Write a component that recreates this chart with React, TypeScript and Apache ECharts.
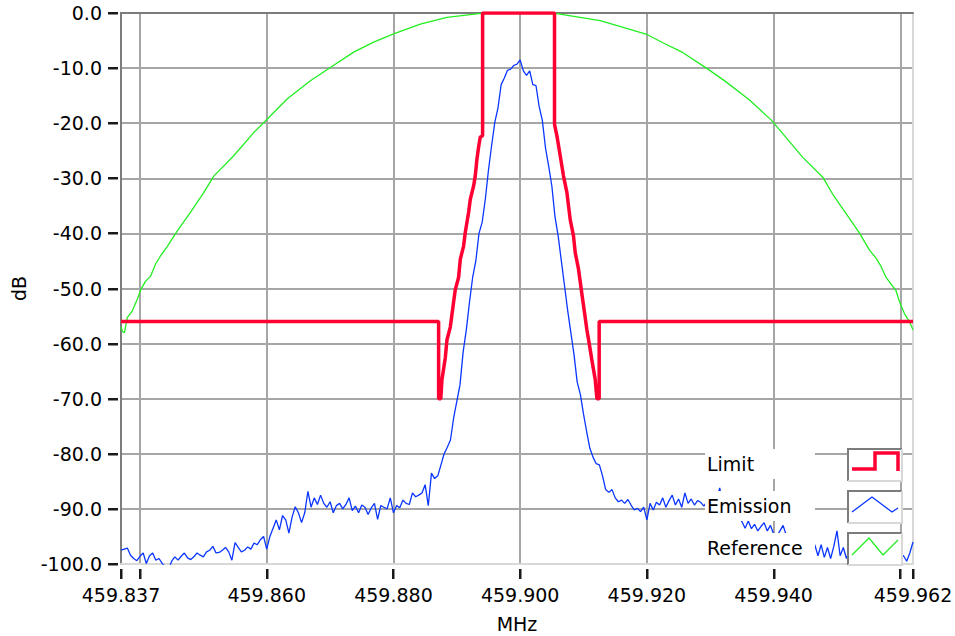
import React, { useEffect, useRef } from 'react';
import * as echarts from 'echarts';

// ---------- axis ----------
const X_MIN = 459.837;
const X_MAX = 459.962;
const xTickValues = [459.837, 459.84, 459.86, 459.88, 459.9, 459.92, 459.94, 459.96, 459.962];
const xLabelValues = [459.837, 459.86, 459.88, 459.9, 459.92, 459.94, 459.962];
const Y_MIN = -100;
const Y_MAX = 0;
const Y_STEP = 10;
const yTickValues = [-100, -90, -80, -70, -60, -50, -40, -30, -20, -10, 0];

// ---------- Reference (green) ----------
const refFreq = [
  459.837, 459.83724, 459.83755, 459.83798, 459.83877, 459.83956, 459.84008, 459.84086, 459.84165,
  459.84244, 459.84323, 459.84429, 459.84586, 459.84796, 459.85006, 459.85164, 459.85479, 459.85795,
  459.85979, 459.86321, 459.86689, 459.87004, 459.87372, 459.87687, 459.88003, 459.88424, 459.88845,
  459.89343, 459.89986, 459.9058, 459.91263, 459.92, 459.92253, 459.9257, 459.9294, 459.9325,
  459.9362, 459.9396, 459.94145, 459.9446, 459.94776, 459.94934, 459.95144, 459.95354, 459.95511,
  459.95617, 459.95696, 459.95775, 459.95854, 459.95932, 459.95984, 459.96063, 459.96142, 459.962,
];
const refDb = [
  -57.0, -57.8, -58.0, -55.3, -54.1, -52.0, -50.3, -48.7, -47.8,
  -45.6, -44.1, -42.4, -39.6, -36.2, -32.6, -29.6, -25.9, -21.7,
  -19.6, -15.6, -12.3, -9.9, -7.1, -5.3, -3.8, -2.0, -0.8,
  -0.1, 0.0, -0.1, -1.4, -3.9, -5.4, -7.2, -10.0, -12.5,
  -15.8, -19.4, -21.9, -26.2, -29.8, -32.9, -36.4, -39.9, -43.0,
  -44.5, -46.0, -48.0, -49.2, -50.4, -52.3, -54.5, -56.0, -57.5,
];

// ---------- Limit (red) ----------
const limitFreq = [
  459.837, 459.88713, 459.88713, 459.88747, 459.88766, 459.88818, 459.88845, 459.88897, 459.88949,
  459.88976, 459.89028, 459.89055, 459.89107, 459.89134, 459.89186, 459.89213, 459.89265, 459.89291,
  459.89318, 459.89343, 459.8937, 459.89407, 459.89407,
  459.90542, 459.90542, 459.9058, 459.90632, 459.90659, 459.90684, 459.90738, 459.90763, 459.9079,
  459.90842, 459.90869, 459.90921, 459.90974, 459.91011, 459.91053, 459.9109, 459.91132, 459.91184,
  459.91211, 459.91247, 459.91247, 459.962,
];
const limitDb = [
  -56, -56, -70, -70, -66.5, -62.6, -59.3, -57.0, -52.5,
  -50.2, -48.0, -44.7, -42.3, -39.8, -36.2, -33.8, -31.4, -29.6,
  -26.5, -24.4, -22.5, -22.3, 0,
  0, -20.2, -22.3, -25.9, -27.8, -29.6, -32.6, -35.0, -37.5,
  -40.5, -43.5, -46.5, -51.0, -54.0, -57.5, -60.0, -63.0, -66.5,
  -70, -70, -56, -56,
];

// ---------- Emission (blue): waveform t0 / dt / Y ----------
const emissionStart = 459.837;
const emissionStep = 0.0005;
const emissionDb = [
  -97.5, -97.3, -97.1, -98.4, -99.0, -99.4, -98.6, -98.0, -99.9, -98.5,
  -98.0, -99.3, -99.0, -99.9, -100.5, -101.0, -99.5, -98.7, -99.3, -98.6,
  -98.0, -98.9, -99.2, -98.7, -98.0, -98.4, -98.7, -97.8, -97.5, -96.8,
  -98.0, -97.9, -97.5, -97.0, -97.8, -99.3, -96.1, -97.0, -97.8, -97.5,
  -96.9, -97.3, -96.2, -96.5, -95.6, -95.0, -97.3, -95.0, -93.5, -92.0,
  -93.8, -91.2, -92.0, -94.4, -91.5, -89.6, -90.7, -92.5, -90.7, -86.8,
  -89.7, -88.0, -89.2, -87.5, -89.0, -89.7, -88.7, -90.7, -89.4, -89.0,
  -90.0, -89.2, -88.0, -90.3, -89.5, -90.7, -89.3, -89.7, -91.0, -89.8,
  -89.0, -91.9, -89.4, -89.7, -90.0, -88.0, -90.7, -89.4, -89.8, -88.4,
  -89.0, -89.2, -87.1, -87.8, -87.5, -87.1, -85.6, -89.4, -83.5, -84.5,
  -84.0, -82.0, -80.0, -78.8, -77.5, -73.5, -70.5, -67.5, -61.5, -57.5,
  -52.5, -48.0, -45.0, -40.0, -38.0, -33.8, -28.5, -24.0, -19.8, -17.2,
  -13.0, -11.8, -10.4, -10.2, -9.5, -9.3, -8.5, -10.5, -11.3, -10.5,
  -13.0, -13.2, -17.0, -19.5, -24.5, -27.8, -31.4, -37.0, -40.5, -45.0,
  -49.5, -54.0, -58.0, -62.0, -67.0, -69.2, -72.8, -76.0, -79.0, -80.6,
  -81.8, -82.0, -84.0, -86.5, -87.0, -86.5, -88.0, -88.7, -88.4, -89.0,
  -88.3, -89.3, -90.2, -89.9, -90.5, -89.7, -92.0, -89.0, -90.2, -88.8,
  -89.3, -88.0, -89.7, -88.5, -87.5, -89.3, -88.2, -89.7, -87.1, -89.0,
  -88.2, -89.3, -88.5, -88.8, -89.5, -88.6, -89.8, -89.0, -88.2, -86.2,
  -89.5, -90.5, -91.0, -90.3, -92.0, -91.5, -92.3, -93.5, -92.2, -93.6,
  -92.8, -94.0, -93.2, -92.5, -94.0, -93.0, -94.5, -95.0, -94.0, -93.0,
  -94.8, -96.0, -96.5, -97.0, -96.2, -99.8, -97.5, -96.8, -97.5, -96.5,
  -98.5, -96.5, -98.8, -97.0, -99.0, -96.8, -94.0, -98.5, -97.0, -99.0,
  -97.5, -98.0, -97.2, -98.6, -97.8, -99.1, -98.0, -97.4, -98.9, -98.2,
  -97.6, -99.0, -98.3, -97.7, -98.8, -97.9, -98.5, -98.5, -99.5, -98.0,
  -96.0,
];

const legendNames = ['Limit', 'Emission', 'Reference'];
const RED = '#ff0033';
const BLUE = '#0a36ff';
const GREEN = '#22ee22';
const FONT = 'DejaVu Sans';

const W = 955;
const H = 636;
const GRID_LEFT = 121;
const GRID_RIGHT = 42;
const GRID_TOP = 13;
const GRID_BOTTOM = 72;

export default function App() {
  const ref = useRef<HTMLDivElement>(null);

  useEffect(() => {
    const el = ref.current!;
    const chart = echarts.init(el, undefined, { renderer: 'svg' });

    const refData = refFreq.map((f, i) => [f, refDb[i]]);
    const limitData = limitFreq.map((f, i) => [f, limitDb[i]]);
    const emissionData = emissionDb.map((v, i) => [emissionStart + i * emissionStep, v]);

    const dark = '#7c7c7c';
    const light = '#d8d8d8';
    const tickColor = '#1a1a1a';

    const hidden = { show: false };

    const option: any = {
      animation: false,
      backgroundColor: '#ffffff',
      textStyle: { fontFamily: FONT },
      grid: {
        left: GRID_LEFT, right: GRID_RIGHT, top: GRID_TOP, bottom: GRID_BOTTOM,
        containLabel: false, outerBoundsMode: 'none',
      },
      xAxis: [
        {
          type: 'value', min: X_MIN, max: X_MAX, position: 'bottom',
          name: 'MHz', nameLocation: 'middle', nameGap: 50,
          nameTextStyle: { color: '#000', fontSize: 19, fontFamily: FONT },
          axisLine: { show: true, onZero: false, lineStyle: { color: light, width: 2 } },
          axisTick: { show: false, customValues: xTickValues },
          axisLabel: {
            show: true, customValues: xLabelValues, margin: 21, color: '#000', fontSize: 19, fontFamily: FONT,
            formatter: (v: number) => v.toFixed(3),
          },
          splitLine: { show: true, lineStyle: { color: '#a6a6a6', width: 2 } },
        },
        {
          type: 'value', min: X_MIN, max: X_MAX, position: 'top',
          axisLine: { show: true, onZero: false, lineStyle: { color: dark, width: 2 } },
          axisTick: hidden, axisLabel: hidden, splitLine: hidden,
        },
      ],
      yAxis: [
        {
          type: 'value', min: Y_MIN, max: Y_MAX, interval: Y_STEP, position: 'left',
          name: 'dB', nameLocation: 'middle', nameGap: 93, nameRotate: 90,
          nameTextStyle: { color: '#000', fontSize: 19, fontFamily: FONT },
          axisLine: { show: true, onZero: false, lineStyle: { color: dark, width: 2 } },
          axisTick: hidden,
          axisLabel: {
            show: true, margin: 19, color: '#000', fontSize: 19, fontFamily: FONT,
            formatter: (v: number) => v.toFixed(1),
          },
          splitLine: { show: true, lineStyle: { color: '#a6a6a6', width: 2 } },
        },
        {
          type: 'value', min: Y_MIN, max: Y_MAX, position: 'right',
          axisLine: { show: true, onZero: false, lineStyle: { color: light, width: 2 } },
          axisTick: hidden, axisLabel: hidden, splitLine: hidden,
        },
      ],
      series: [
        {
          name: 'Reference', type: 'line', data: refData, xAxisIndex: 0, yAxisIndex: 0,
          showSymbol: false, symbol: 'none', clip: true,
          lineStyle: { color: GREEN, width: 1.3 },
        },
        {
          name: 'Emission', type: 'line', data: emissionData, xAxisIndex: 0, yAxisIndex: 0,
          showSymbol: false, symbol: 'none', clip: true,
          lineStyle: { color: BLUE, width: 1.3 },
        },
        {
          name: 'Limit', type: 'line', data: limitData, xAxisIndex: 0, yAxisIndex: 0,
          showSymbol: false, symbol: 'none', clip: true,
          lineStyle: { color: RED, width: 3.5 },
        },
      ],
    };

    chart.setOption(option);

    // map a data point to pixels through the grid's scales (fallback: same linear layout)
    const toPx = (xv: number, yv: number): number[] => {
      let p: any = null;
      try {
        p = chart.convertToPixel({ gridIndex: 0 } as any, [xv, yv]);
      } catch (e) {
        p = null;
      }
      if (p && isFinite(p[0]) && isFinite(p[1])) return [p[0], p[1]];
      const pw = W - GRID_LEFT - GRID_RIGHT;
      const ph = H - GRID_TOP - GRID_BOTTOM;
      return [
        GRID_LEFT + ((xv - X_MIN) / (X_MAX - X_MIN)) * pw,
        GRID_TOP + ((Y_MAX - yv) / (Y_MAX - Y_MIN)) * ph,
      ];
    };

    // ---- ticks (LabVIEW style, detached from the frame) ----
    const graphics: any[] = [];
    const origin = toPx(X_MIN, Y_MIN);
    const xLeft = origin[0];
    const yBottom = origin[1];
    yTickValues.forEach((v) => {
      const y = Math.round(toPx(X_MIN, v)[1]);
      graphics.push({
        type: 'rect', z: 50, silent: true,
        shape: { x: xLeft - 13, y: y - 1, width: 10, height: 2.5 },
        style: { fill: tickColor },
      });
    });
    xTickValues.forEach((v) => {
      const x = Math.round(toPx(v, Y_MIN)[0]);
      graphics.push({
        type: 'rect', z: 50, silent: true,
        shape: { x: x - 1, y: yBottom + 5, width: 2.5, height: 10 },
        style: { fill: tickColor },
      });
    });

    // ---- legend ----
    const labelX = 705;
    const labelW = 110;
    const boxX = 847;
    const boxW = 55;
    const rowTop = [448, 490, 532];
    const rowH = 33;
    legendNames.forEach((name, k) => {
      const top = rowTop[k];
      graphics.push({
        type: 'rect', z: 100, silent: true,
        shape: { x: labelX, y: top + 1, width: labelW, height: 30 },
        style: { fill: '#ffffff' },
      });
      graphics.push({
        type: 'text', z: 101, silent: true,
        x: labelX + 2, y: top + 16,
        style: { text: name, fill: '#000', font: `19px "${FONT}"`, textVerticalAlign: 'middle', textAlign: 'left' },
      });
      graphics.push({
        type: 'rect', z: 100, silent: true,
        shape: { x: boxX, y: top, width: boxW, height: rowH },
        style: { fill: '#ffffff' },
      });
      graphics.push({
        type: 'polyline', z: 101, silent: true,
        shape: { points: [[boxX + 1, top + rowH], [boxX + 1, top + 1], [boxX + boxW, top + 1]] },
        style: { stroke: dark, lineWidth: 2, fill: 'none' },
      });
      graphics.push({
        type: 'polyline', z: 101, silent: true,
        shape: { points: [[boxX + boxW, top + 1], [boxX + boxW, top + rowH], [boxX + 1, top + rowH]] },
        style: { stroke: light, lineWidth: 2, fill: 'none' },
      });
    });
    graphics.push({
      type: 'polyline', z: 102, silent: true,
      shape: { points: [[852, 469], [875, 469], [875, 453], [898, 453], [898, 471]] },
      style: { stroke: RED, lineWidth: 3.5, fill: 'none' },
    });
    graphics.push({
      type: 'polyline', z: 102, silent: true,
      shape: { points: [[852, 512], [872, 497], [892, 512], [898, 508]] },
      style: { stroke: BLUE, lineWidth: 1.3, fill: 'none' },
    });
    graphics.push({
      type: 'polyline', z: 102, silent: true,
      shape: { points: [[852, 555], [869, 538], [883, 555], [898, 540]] },
      style: { stroke: GREEN, lineWidth: 1.3, fill: 'none' },
    });

    chart.setOption({ graphic: graphics });

    return () => chart.dispose();
  }, []);

  return (
    <div
      ref={ref}
      style={{ position: 'fixed', left: 0, top: 0, width: W, height: H, background: '#ffffff' }}
    />
  );
}
